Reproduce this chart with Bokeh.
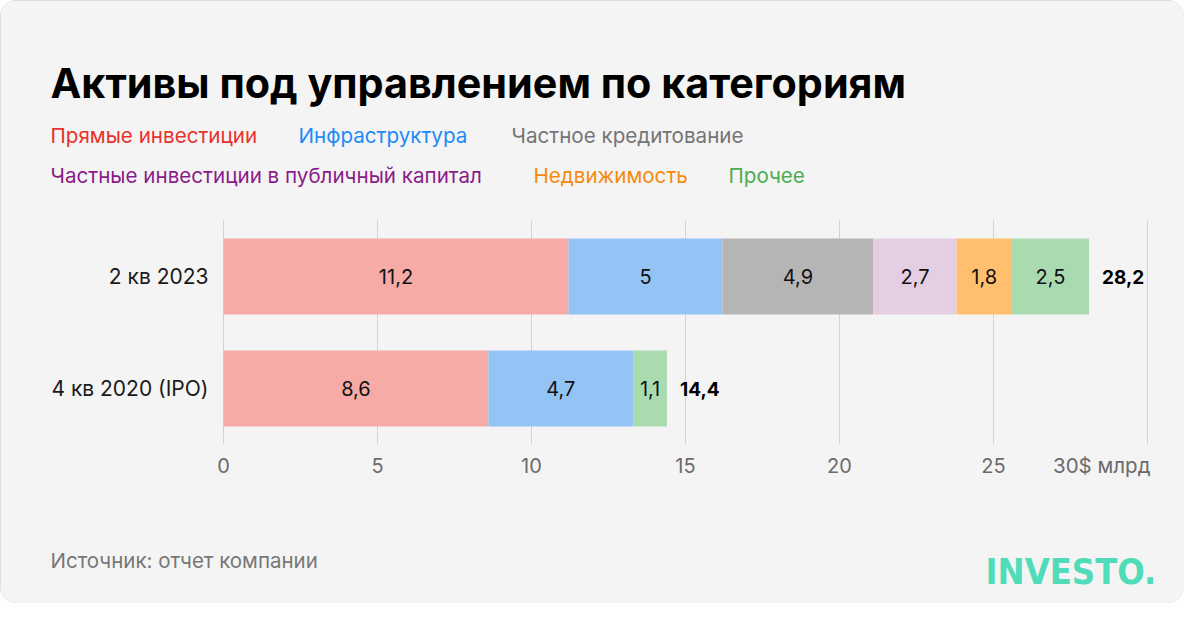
from bokeh.plotting import figure
from bokeh.models import ColumnDataSource, Range1d, Label
from bokeh.core.properties import value
from bokeh.embed import file_html
from bokeh.resources import INLINE

# ---- data ----
title_text = "Активы под управлением по категориям"
periods = ["4 кв 2020 (IPO)", "2 кв 2023"]          # bottom to top
series_names = ["Прямые инвестиции", "Инфраструктура", "Частное кредитование",
                "Частные инвестиции в публичный капитал", "Недвижимость", "Прочее"]
values_2020 = [8.6, 4.7, 0.0, 0.0, 0.0, 1.1]
values_2023 = [11.2, 5.0, 4.9, 2.7, 1.8, 2.5]
totals = [14.4, 28.2]
x_ticks = [0, 5, 10, 15, 20, 25, 30]
x_tick_labels = ["0", "5", "10", "15", "20", "25", "30$ млрд"]
source_text = "Источник: отчет компании"
logo_text = "INVESTO."

# ---- styles ----
bar_colors = ["#f6aba6", "#94c3f5", "#b5b5b5", "#e3cee3", "#ffbf6e", "#aadbb0"]
text_colors = ["#e8322b", "#1e8bf7", "#757575", "#8a1c8a", "#f58a0f", "#4cae50"]
FONT = "Inter"
BG = "#f4f4f4"

W, H = 1184, 603
X0, PX_PER_UNIT = 223, 30.8       # pixel of x=0, pixels per unit
Y_BOTTOM_CAT, ROW = 388, 112      # pixel of bottom category centre, row pitch

x_range = Range1d(-X0 / PX_PER_UNIT, (W - X0) / PX_PER_UNIT)
y_range = Range1d(-(H - Y_BOTTOM_CAT) / ROW, 1 + (Y_BOTTOM_CAT - ROW) / ROW)

p = figure(width=W, height=H, output_backend="svg", toolbar_location=None,
           x_range=x_range, y_range=y_range,
           x_axis_location=None, y_axis_location=None)
p.min_border = 0
p.min_border_left = p.min_border_right = p.min_border_top = p.min_border_bottom = 0
p.background_fill_color = BG
p.border_fill_color = BG
p.outline_line_color = None
p.grid.visible = False
p.styles = {"border-radius": "16px", "overflow": "hidden",
            "box-shadow": "inset 0 0 0 1px #c9c9c9"}

ypos = list(range(len(periods)))

# grid lines (vertical) spanning the category bands
gsrc = ColumnDataSource(dict(x=x_ticks, y0=[ypos[0] - 0.5] * len(x_ticks),
                             y1=[ypos[-1] + 0.5] * len(x_ticks)))
p.segment(x0="x", x1="x", y0="y0", y1="y1", source=gsrc,
          line_color="#d3d3d3", line_width=1)

# x tick labels
tsrc = ColumnDataSource(dict(x=x_ticks[:-1], y=[ypos[0] - 0.5] * (len(x_ticks) - 1),
                             t=x_tick_labels[:-1]))
p.text(x="x", y="y", text="t", source=tsrc, y_offset=21, text_align="center",
       text_baseline="middle", text_font=value(FONT), text_font_size="20px",
       text_color="#6b6b6b")
p.text(x=[x_ticks[-1]], y=[ypos[0] - 0.5], text=[x_tick_labels[-1]], y_offset=21,
       x_offset=3, text_align="right", text_baseline="middle",
       text_font=value(FONT), text_font_size="20.5px", text_color="#6b6b6b")

# category labels
p.text(x=[0] * len(periods), y=ypos, text=periods, x_offset=-15, text_align="right",
       text_baseline="middle", text_font=value(FONT), text_font_size="21px",
       text_color="#1a1a1a")

# bars
rows = [values_2020, values_2023]
by, bl, br, bc, bm, bt = [], [], [], [], [], []
for yi, vals in zip(ypos, rows):
    acc = 0.0
    for i, v in enumerate(vals):
        if v <= 0:
            continue
        by.append(yi)
        bl.append(acc)
        br.append(acc + v)
        bc.append(bar_colors[i])
        bm.append(acc + v / 2)
        bt.append(("%g" % v).replace(".", ","))
        acc += v
src = ColumnDataSource(dict(y=by, left=bl, right=br, color=bc, mid=bm, txt=bt))
p.hbar(y="y", left="left", right="right", height=0.68, fill_color="color",
       line_color=None, source=src)
p.text(x="mid", y="y", text="txt", source=src, text_align="center",
       text_baseline="middle", text_font=value(FONT), text_font_size="20px",
       text_color="#111111")

# totals
ends = [sum(v) for v in rows]
tot_src = ColumnDataSource(dict(x=ends, y=ypos,
                                t=[("%g" % t).replace(".", ",") for t in totals]))
p.text(x="x", y="y", text="t", source=tot_src, x_offset=13, text_align="left",
       text_baseline="middle", text_font=value(FONT), text_font_size="19px",
       text_font_style="bold", text_color="#000000")

# frame-relative screen coordinates (y up from bottom)
def sy(Y):
    return H - Y

# title
p.add_layout(Label(x=50, y=sy(82), x_units="screen", y_units="screen",
                   text=title_text, text_font=FONT, text_font_size="41.3px",
                   text_font_style="bold", text_color="#000000",
                   text_baseline="alphabetic"))

# legend as coloured text
leg_pos = [(50, 135), (298, 135), (511, 135), (50, 175), (533, 175), (728, 175)]
for name, col, (lx, ly) in zip(series_names, text_colors, leg_pos):
    p.add_layout(Label(x=lx, y=sy(ly), x_units="screen", y_units="screen",
                       text=name, text_font=FONT, text_font_size="20.6px",
                       text_color=col, text_baseline="alphabetic"))

# source
p.add_layout(Label(x=50, y=sy(560), x_units="screen", y_units="screen",
                   text=source_text, text_font=FONT, text_font_size="20.5px",
                   text_color="#777777", text_baseline="alphabetic"))

# logo
p.add_layout(Label(x=985, y=sy(571), x_units="screen", y_units="screen",
                   text=logo_text,
                   text_font="'DejaVu Sans Condensed', 'Roboto Condensed', 'Liberation Sans Narrow', Roboto",
                   text_font_size="36px", text_font_style="bold",
                   text_color="#50dcb8", text_baseline="alphabetic"))

open("out.html", "w").write(file_html(p, INLINE))
